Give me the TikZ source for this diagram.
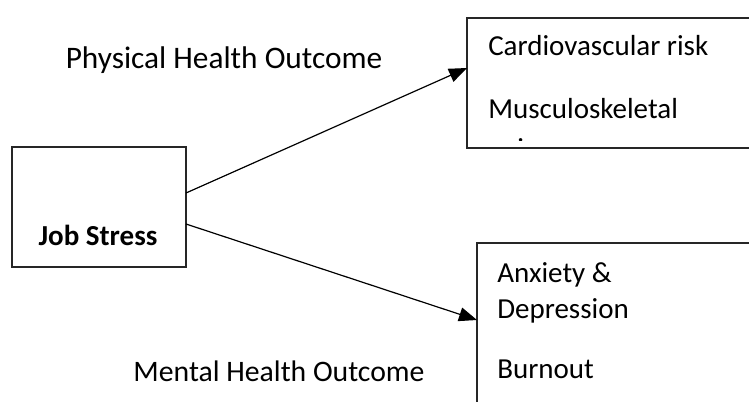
\documentclass[tikz,border=0pt]{standalone}
\usepackage{fontspec}
\setmainfont{Carlito}
\usetikzlibrary{arrows.meta, positioning}
\tikzset{
        box/.style={draw=black!85, line width=1.1pt, anchor=north west, inner sep=0pt, outer sep=0pt}, % frames
        txt/.style={anchor=base west, inner sep=0pt, font=\fontsize{21.75}{26}\selectfont}, % plain labels
        boldtxt/.style={anchor=base, inner sep=0pt, font=\fontsize{21.75}{26}\selectfont\bfseries},
        head/.style={anchor=base, inner sep=0pt, font=\fontsize{#1}{26}\selectfont}, % outcome headings
        link/.style={-{Triangle[length=13.5pt, width=10.5pt]}, line width=0.9pt}, % arrows
    }

\begin{document}
\begin{tikzpicture}[x=0.75pt, y=-0.75pt]
    \useasboundingbox (0,0) rectangle (749,401);
    \clip (0,0) rectangle (749,401);
    % boxes
    \node [box, minimum width=130.5pt, minimum height=90pt] (stress) at (12,147) {};
    \node [box, minimum width=225pt, minimum height=97.5pt] (physical) at (467,18) {};
    \node [box, minimum width=225pt, minimum height=150pt] (mental) at (477,243) {};
    % texts
    \node [boldtxt] (stresslabel) at (98,245) {Job Stress};
    \node [head=23.5] (physhead) at (224,68) {Physical Health Outcome};
    \node [head=22.3] (menthead) at (279,381) {Mental Health Outcome};
    \node [txt] (cardio) at (488,55) {Cardiovascular risk};
    \node [txt] (musculo) at (488,118) {Musculoskeletal};
    \begin{scope}
      \clip (467,18) rectangle (749,140);
      \node [txt] (pain) at (488,158) {pain};
    \end{scope}
    \node [txt] (anxiety) at (497,282) {Anxiety \&};
    \node [txt] (depress) at (497,318) {Depression};
    \node [txt] (burnout) at (497,378) {Burnout};
    % arrows
    \draw [link] ([yshift=10.5pt]stress.east) -- ([yshift=11.25pt]physical.west);
    \draw [link] ([yshift=-12.75pt]stress.east) -- ([yshift=17.25pt]mental.west);
\end{tikzpicture}
\end{document}
